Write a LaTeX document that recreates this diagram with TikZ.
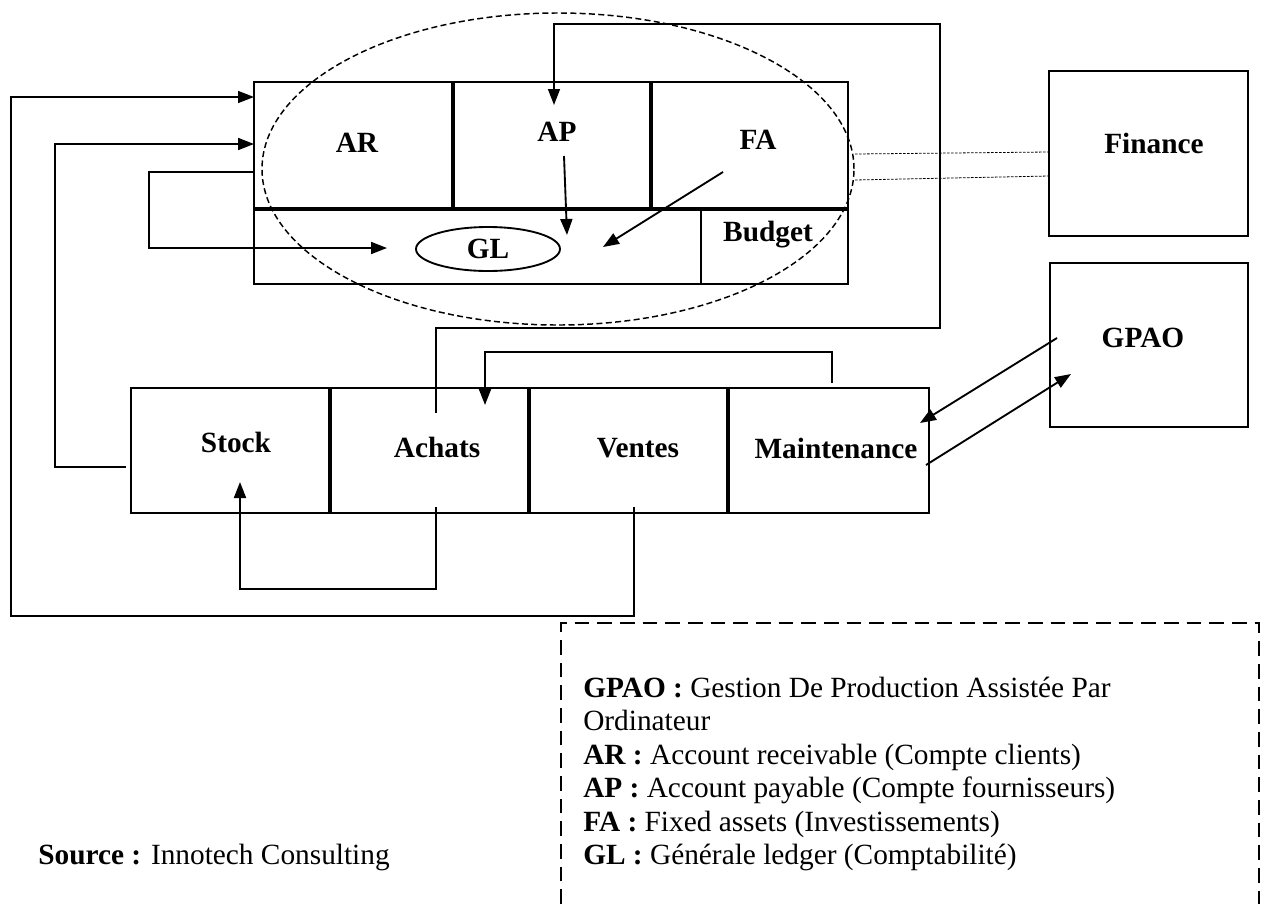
\documentclass[tikz,border=0pt]{standalone}
\usepackage{fontspec}
\setmainfont{Liberation Serif}
\usetikzlibrary{arrows.meta,shapes.geometric}
\begin{document}
\begin{tikzpicture}[x=0.75pt,y=-0.75pt,
 every node/.style={font=\fontsize{22}{25}\selectfont, inner sep=0pt},
 boxline/.style={draw, line width=1.4pt},
 divider/.style={line width=2.4pt},
 lbl/.style={font=\fontsize{22}{25}\selectfont\bfseries},
 arr/.style={line width=1.4pt, -{Triangle[length=12pt,width=9pt]}},
 thinarr/.style={line width=1.1pt, -{Triangle[length=12pt,width=9pt]}},
 dotlink/.style={line width=0.6pt, dash pattern=on 2pt off 1pt},
 bigoval/.style={line width=1.1pt, dash pattern=on 4.5pt off 2.5pt},
 legdash/.style={line width=1.5pt, dash pattern=on 11pt off 6pt},
 legtxt/.style={anchor=base west},
]
\useasboundingbox (0,0) rectangle (1267,904);

% ---------- accounting module ----------
\coordinate (topNW) at (254,82);
\coordinate (topSE) at (848,284);
\draw[boxline] (topNW) rectangle (topSE);
\draw[divider] (254,209) -- (848,209);
\draw[divider] (453,82) -- (453,209);
\draw[divider] (651,82) -- (651,209);
\draw[line width=1.8pt] (701,209) -- (701,284);

\node[lbl] (AR) at (357,143) {AR};
\node[lbl] (AP) at (557,132) {AP};
\node[lbl] (FA) at (758,140) {FA};
\node[lbl] (Budget) at (768,235) {Budget};
\node[ellipse, draw, line width=1.4pt, minimum width=108pt, minimum height=33pt, lbl] (GL) at (488,249) {GL};

\draw[bigoval] (558,169) ellipse [x radius=222pt, y radius=117pt];

% ---------- Finance ----------
\coordinate (finNW) at (1049,71);
\coordinate (finSE) at (1248,236);
\draw[boxline] (finNW) rectangle (finSE);
\node[lbl] (Finance) at (1154,143) {Finance};
\coordinate (ovR1) at (855,154);
\coordinate (fin1) at (1049,152);
\coordinate (ovR2) at (855,180);
\coordinate (fin2) at (1049,176);
\draw[dotlink] (ovR1) -- (fin1);
\draw[dotlink] (ovR2) -- (fin2);

% ---------- GPAO ----------
\coordinate (gpNW) at (1050,263);
\coordinate (gpSE) at (1248,427);
\draw[boxline] (gpNW) rectangle (gpSE);
\node[lbl] (GPAO) at (1143,338) {GPAO};

% ---------- operations row ----------
\coordinate (opNW) at (131,388);
\coordinate (opSE) at (929,513);
\draw[boxline] (opNW) rectangle (opSE);
\draw[divider] (330,388) -- (330,513);
\draw[divider] (529,388) -- (529,513);
\draw[divider] (728,388) -- (728,513);
\node[lbl] (Stock) at (236,442) {Stock};
\node[lbl] (Achats) at (437,447) {Achats};
\node[lbl] (Ventes) at (638,448) {Ventes};
\node[lbl] (Maint) at (836,448) {Maintenance};

% ---------- connectors ----------
% Achats -> AP (big loop over the top)
\coordinate (achTop) at (436,413);
\coordinate (loopR) at (940,328);
\coordinate (loopT) at (554,24);
\coordinate (apIn) at (554,105);
\draw[thinarr] (achTop) |- (loopR) |- (loopT) -- (apIn);

% AP -> GL, FA -> GL
\coordinate (apOut) at (564,156);
\coordinate (glApIn) at (567,235);
\draw[arr] (apOut) -- (glApIn);
\coordinate (faOut) at (723,172);
\coordinate (glFaIn) at (603,247);
\draw[arr] (faOut) -- (glFaIn);

% AR -> GL
\coordinate (arLeft) at (254,172);
\coordinate (glL) at (149,248);
\coordinate (glIn) at (387,248);
\draw[arr] (arLeft) -| (glL) -- (glIn);

% Stock -> AR
\coordinate (stockL) at (126,467);
\coordinate (c55) at (55,144);
\coordinate (arIn2) at (254,144);
\draw[arr] (stockL) -| (c55) -- (arIn2);

% Ventes -> AR
\coordinate (ventesIn) at (634,507);
\coordinate (botL) at (11,616);
\coordinate (arIn1) at (254,97);
\draw[thinarr] (ventesIn) |- (botL) |- (arIn1);

% Maintenance -> Achats
\coordinate (mntTop) at (832,383);
\coordinate (achIn) at (485,405);
\draw[arr] (mntTop) -- ++(0,-31) -| (achIn);

% Achats -> Stock
\coordinate (achBot) at (436,507);
\coordinate (stockIn) at (240,482);
\draw[arr] (achBot) -- ++(0,82) -| (stockIn);

% GPAO <-> Maintenance
\coordinate (gpOut) at (1057,338);
\coordinate (mntIn) at (920,423);
\draw[arr] (gpOut) -- (mntIn);
\coordinate (mntOut) at (926,465);
\coordinate (gpIn) at (1071,374);
\draw[arr] (mntOut) -- (gpIn);

% ---------- legend ----------
\coordinate (legBL) at (561,904);
\coordinate (legTL) at (561,623);
\coordinate (legTR) at (1259,623);
\coordinate (legBR) at (1259,904);
\draw[legdash] (legBL) -- (legTL) -- (legTR) -- (legBR);

\node[legtxt] (l1) at (583,697) {\textbf{GPAO :} Gestion De Production Assistée Par};
\node[legtxt] (l2) at (583,730.5) {Ordinateur};
\node[legtxt] (l3) at (583,764) {\textbf{AR :} Account receivable (Compte clients)};
\node[legtxt] (l4) at (583,797.5) {\textbf{AP :} Account payable (Compte fournisseurs)};
\node[legtxt] (l5) at (583,831) {\textbf{FA :} Fixed assets (Investissements)};
\node[legtxt] (l6) at (583,864.5) {\textbf{GL :} Générale ledger (Comptabilité)};

\node[anchor=base east] (src) at (390,864.5) {\textbf{Source :} Innotech Consulting};
\end{tikzpicture}
\end{document}
